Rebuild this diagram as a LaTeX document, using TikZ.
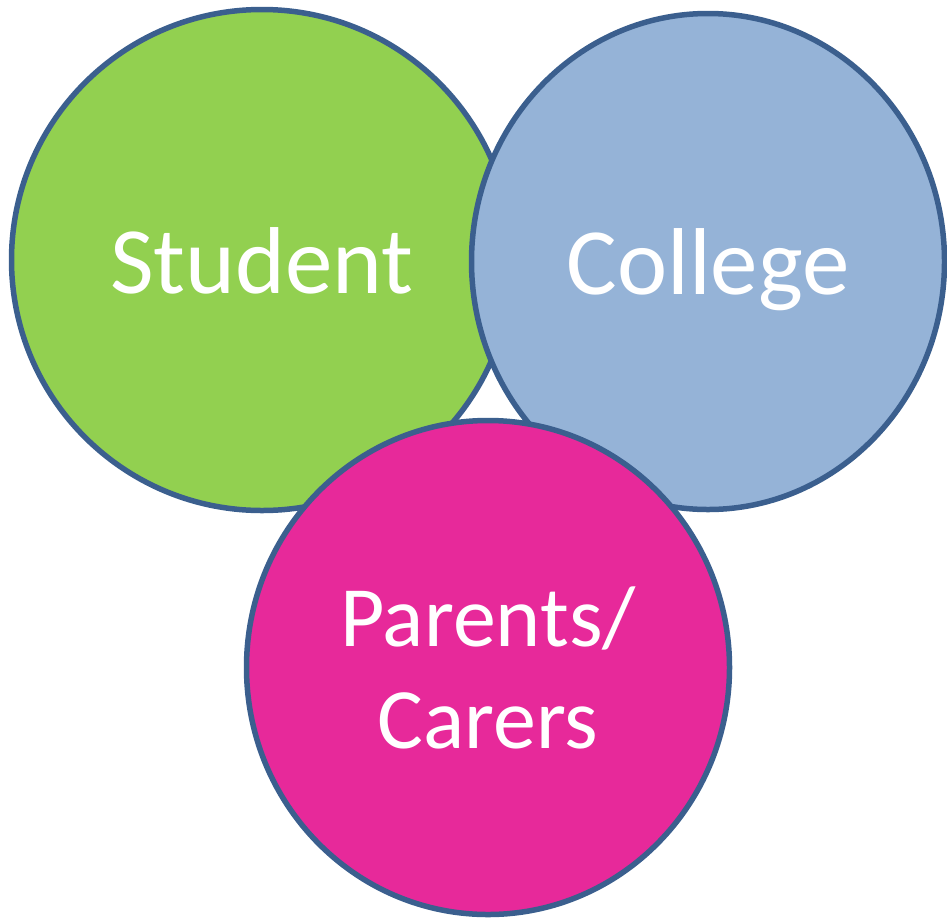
\documentclass[tikz,border=0pt]{standalone}
\usepackage{fontspec}
\setmainfont{Carlito}
\usepackage{tikz}
\usetikzlibrary{shapes}
\definecolor{studentgreen}{HTML}{92D050}
\definecolor{collegeblue}{HTML}{95B3D7}
\definecolor{parentpink}{HTML}{E7299A}
\definecolor{ringblue}{HTML}{3B5F8E}

\begin{document}
\begin{tikzpicture}[
    x=1pt, y=-1pt,
    group style/.style={ellipse, draw=ringblue, line width=5.5pt, inner sep=0pt, text=white, font=\fontsize{95}{102}\selectfont, align=center},
    one line/.style={text height=66pt, text depth=0pt}
]
\useasboundingbox (0,0) rectangle (947,919);
\node[group style, one line, fill=studentgreen, minimum width=501pt, minimum height=501pt] (student) at (262,260) {Student};
\node[group style, one line, fill=collegeblue, minimum width=473pt, minimum height=496pt] (college) at (708,261.5) {College};
\node[group style, fill=parentpink, minimum width=483pt, minimum height=494pt, font=\fontsize{86}{102}\selectfont] (parents) at (488,667.5) {Parents/\\Carers};
\end{tikzpicture}
\end{document}
